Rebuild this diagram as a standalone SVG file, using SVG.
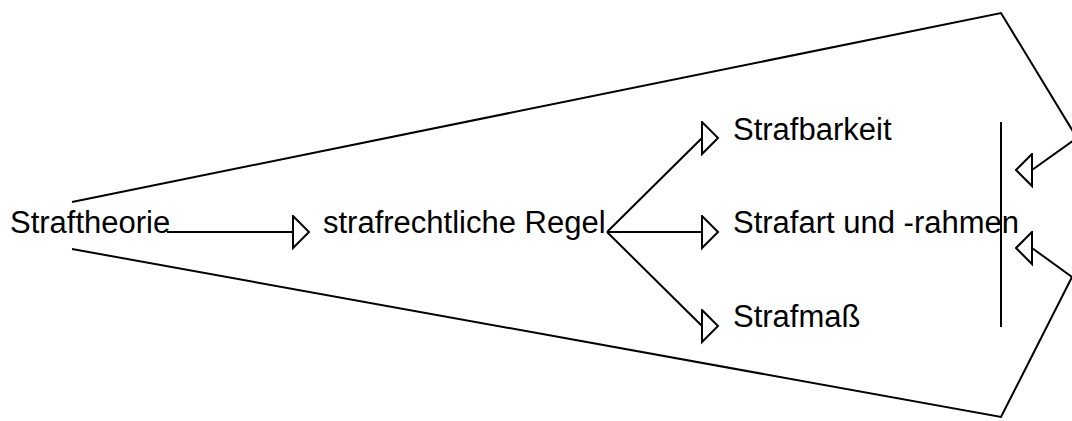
<svg xmlns="http://www.w3.org/2000/svg" width="1072" height="421" viewBox="0 0 1072 421">
  <style>
    .lbl { font-family: "Liberation Sans", Arial, sans-serif; font-size: 31px; fill: #000; }
    .ln { stroke: #000; stroke-width: 2; fill: none; }
  </style>
  <defs>
    <marker id="arrR" markerUnits="userSpaceOnUse" markerWidth="20" markerHeight="36" refX="1" refY="17" viewBox="0 0 20 36">
      <path d="M1,1 L17,17 L1,33 Z" fill="none" stroke="#000" stroke-width="2"/>
    </marker>
    <marker id="arrL" markerUnits="userSpaceOnUse" markerWidth="20" markerHeight="36" refX="17" refY="17" viewBox="0 0 20 36">
      <path d="M17,1 L1,17 L17,33 Z" fill="none" stroke="#000" stroke-width="2"/>
    </marker>
  </defs>
  <rect width="1072" height="421" fill="#fff"/>

  <g id="frame">
    <polyline class="ln" points="72,202 1001,13 1077,138"/>
    <polyline class="ln" points="72,249 1001,417 1072,277"/>
    <line class="ln" x1="1001" y1="122" x2="1001" y2="327"/>
  </g>

  <g id="connectors">
    <line class="ln" x1="167" y1="232" x2="293" y2="232" marker-end="url(#arrR)"/>
    <line class="ln" x1="607" y1="232" x2="702" y2="138" marker-end="url(#arrR)"/>
    <line class="ln" x1="607" y1="232" x2="702" y2="232" marker-end="url(#arrR)"/>
    <line class="ln" x1="607" y1="232" x2="702" y2="326" marker-end="url(#arrR)"/>
    <line class="ln" x1="1077" y1="138" x2="1032" y2="170" marker-end="url(#arrL)"/>
    <line class="ln" x1="1072" y1="277" x2="1032" y2="248" marker-end="url(#arrL)"/>
  </g>

  <g id="straftheorie"><text class="lbl" x="10" y="233">Straftheorie</text></g>
  <g id="regel"><text class="lbl" x="323" y="233">strafrechtliche Regel</text></g>
  <g id="strafbarkeit"><text class="lbl" x="733" y="140">Strafbarkeit</text></g>
  <g id="strafart"><text class="lbl" x="733" y="233">Strafart und -rahmen</text></g>
  <g id="strafmass"><text class="lbl" x="733" y="327">Strafmaß</text></g>
</svg>
